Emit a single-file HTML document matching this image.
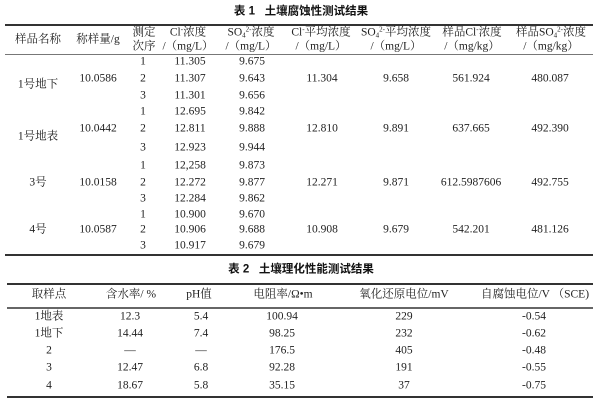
<!DOCTYPE html>
<html><head><meta charset="utf-8"><style>
html,body{margin:0;padding:0;background:#fff;}
body{width:600px;height:403px;position:relative;overflow:hidden;font-family:"Liberation Serif","Noto Serif CJK SC",serif;color:#222;font-size:11.5px;}
.c{position:absolute;transform:translate(-50%,-50%);white-space:nowrap;line-height:1;}
.t{font-family:"Liberation Sans","Noto Sans CJK SC",sans-serif;font-weight:bold;font-size:11.5px;color:#111;}
.l{position:absolute;background:#333;}
sub,sup{font-size:7px;line-height:0;}
sup{vertical-align:4px;}
sub{vertical-align:-2px;}
</style></head><body>
<div class="c t" style="left:301px;top:12px">表 1&nbsp;&nbsp; 土壤腐蚀性测试结果</div>
<div class="l" style="left:5px;top:24px;width:588px;height:2px"></div>
<div class="l" style="left:5px;top:54px;width:588px;height:1px;background:#777"></div>
<div class="l" style="left:5px;top:254px;width:588px;height:2px"></div>

<div class="c" style="left:38px;top:40px">样品名称</div>
<div class="c" style="left:98px;top:40px">称样量/g</div>
<div class="c" style="left:144px;top:33px">测定</div>
<div class="c" style="left:144px;top:47px">次序</div>
<div class="c" style="left:188px;top:33px">Cl<sup>-</sup>浓度</div>
<div class="c" style="left:188px;top:47px">/（mg/L）</div>
<div class="c" style="left:251px;top:33px">SO<sub>4</sub><sup>2-</sup>浓度</div>
<div class="c" style="left:251px;top:47px">/（mg/L）</div>
<div class="c" style="left:321px;top:33px">Cl<sup>-</sup>平均浓度</div>
<div class="c" style="left:321px;top:47px">/（mg/L）</div>
<div class="c" style="left:396px;top:33px">SO<sub>4</sub><sup>2-</sup>平均浓度</div>
<div class="c" style="left:396px;top:47px">/（mg/L）</div>
<div class="c" style="left:472px;top:33px">样品Cl<sup>-</sup>浓度</div>
<div class="c" style="left:472px;top:47px">/（mg/kg）</div>
<div class="c" style="left:551px;top:33px">样品SO<sub>4</sub><sup>2-</sup>浓度</div>
<div class="c" style="left:551px;top:47px">/（mg/kg）</div>

<!-- group 1 -->
<div class="c" style="left:38px;top:85px">1号地下</div>
<div class="c" style="left:98px;top:79px">10.0586</div>
<div class="c" style="left:143px;top:62px">1</div><div class="c" style="left:190px;top:62px">11.305</div><div class="c" style="left:252px;top:62px">9.675</div>
<div class="c" style="left:143px;top:79px">2</div><div class="c" style="left:190px;top:79px">11.307</div><div class="c" style="left:252px;top:79px">9.643</div>
<div class="c" style="left:143px;top:96px">3</div><div class="c" style="left:190px;top:96px">11.301</div><div class="c" style="left:252px;top:96px">9.656</div>
<div class="c" style="left:322px;top:79px">11.304</div><div class="c" style="left:396px;top:79px">9.658</div><div class="c" style="left:471px;top:79px">561.924</div><div class="c" style="left:550px;top:79px">480.087</div>

<!-- group 2 -->
<div class="c" style="left:38px;top:137px">1号地表</div>
<div class="c" style="left:98px;top:129px">10.0442</div>
<div class="c" style="left:143px;top:112px">1</div><div class="c" style="left:190px;top:112px">12.695</div><div class="c" style="left:252px;top:112px">9.842</div>
<div class="c" style="left:143px;top:129px">2</div><div class="c" style="left:190px;top:129px">12.811</div><div class="c" style="left:252px;top:129px">9.888</div>
<div class="c" style="left:143px;top:148px">3</div><div class="c" style="left:190px;top:148px">12.923</div><div class="c" style="left:252px;top:148px">9.944</div>
<div class="c" style="left:322px;top:129px">12.810</div><div class="c" style="left:396px;top:129px">9.891</div><div class="c" style="left:471px;top:129px">637.665</div><div class="c" style="left:550px;top:129px">492.390</div>

<!-- group 3 -->
<div class="c" style="left:38px;top:183px">3号</div>
<div class="c" style="left:98px;top:183px">10.0158</div>
<div class="c" style="left:143px;top:166px">1</div><div class="c" style="left:190px;top:166px">12,258</div><div class="c" style="left:252px;top:166px">9.873</div>
<div class="c" style="left:143px;top:183px">2</div><div class="c" style="left:190px;top:183px">12.272</div><div class="c" style="left:252px;top:183px">9.877</div>
<div class="c" style="left:143px;top:199px">3</div><div class="c" style="left:190px;top:199px">12.284</div><div class="c" style="left:252px;top:199px">9.862</div>
<div class="c" style="left:322px;top:183px">12.271</div><div class="c" style="left:396px;top:183px">9.871</div><div class="c" style="left:471px;top:183px">612.5987606</div><div class="c" style="left:550px;top:183px">492.755</div>

<!-- group 4 -->
<div class="c" style="left:38px;top:230px">4号</div>
<div class="c" style="left:98px;top:230px">10.0587</div>
<div class="c" style="left:143px;top:215px">1</div><div class="c" style="left:190px;top:215px">10.900</div><div class="c" style="left:252px;top:215px">9.670</div>
<div class="c" style="left:143px;top:230px">2</div><div class="c" style="left:190px;top:230px">10.906</div><div class="c" style="left:252px;top:230px">9.688</div>
<div class="c" style="left:143px;top:246px">3</div><div class="c" style="left:190px;top:246px">10.917</div><div class="c" style="left:252px;top:246px">9.679</div>
<div class="c" style="left:322px;top:230px">10.908</div><div class="c" style="left:396px;top:230px">9.679</div><div class="c" style="left:471px;top:230px">542.201</div><div class="c" style="left:550px;top:230px">481.126</div>

<!-- Table 2 -->
<div class="c t" style="left:301px;top:270px">表 2&nbsp;&nbsp; 土壤理化性能测试结果</div>
<div class="l" style="left:7px;top:283px;width:586px;height:2px"></div>
<div class="l" style="left:7px;top:307px;width:586px;height:1.5px;background:#666"></div>
<div class="l" style="left:7px;top:396px;width:586px;height:2px"></div>

<div class="c" style="left:49px;top:295px">取样点</div>
<div class="c" style="left:131px;top:295px">含水率/ %</div>
<div class="c" style="left:199px;top:295px">pH值</div>
<div class="c" style="left:283px;top:295px">电阻率/Ω•m</div>
<div class="c" style="left:404px;top:295px">氧化还原电位/mV</div>
<div class="c" style="left:535px;top:295px">自腐蚀电位/V （SCE)</div>

<div class="c" style="left:49px;top:317px">1地表</div><div class="c" style="left:130px;top:317px">12.3</div><div class="c" style="left:201px;top:317px">5.4</div><div class="c" style="left:282px;top:317px">100.94</div><div class="c" style="left:404px;top:317px">229</div><div class="c" style="left:534px;top:317px">-0.54</div>
<div class="c" style="left:49px;top:334px">1地下</div><div class="c" style="left:130px;top:334px">14.44</div><div class="c" style="left:201px;top:334px">7.4</div><div class="c" style="left:282px;top:334px">98.25</div><div class="c" style="left:404px;top:334px">232</div><div class="c" style="left:534px;top:334px">-0.62</div>
<div class="c" style="left:49px;top:351px">2</div><div class="c" style="left:130px;top:351px">—</div><div class="c" style="left:201px;top:351px">—</div><div class="c" style="left:282px;top:351px">176.5</div><div class="c" style="left:404px;top:351px">405</div><div class="c" style="left:534px;top:351px">-0.48</div>
<div class="c" style="left:49px;top:368px">3</div><div class="c" style="left:130px;top:368px">12.47</div><div class="c" style="left:201px;top:368px">6.8</div><div class="c" style="left:282px;top:368px">92.28</div><div class="c" style="left:404px;top:368px">191</div><div class="c" style="left:534px;top:368px">-0.55</div>
<div class="c" style="left:49px;top:386px">4</div><div class="c" style="left:130px;top:386px">18.67</div><div class="c" style="left:201px;top:386px">5.8</div><div class="c" style="left:282px;top:386px">35.15</div><div class="c" style="left:404px;top:386px">37</div><div class="c" style="left:534px;top:386px">-0.75</div>
</body></html>
